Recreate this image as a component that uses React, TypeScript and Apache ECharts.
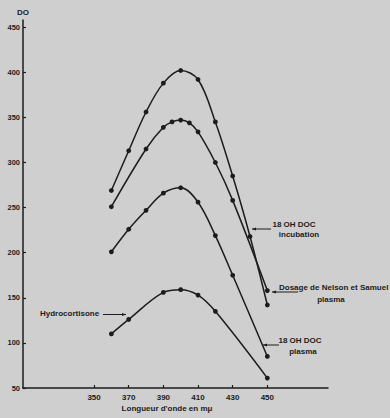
import React, { useEffect, useRef } from 'react';
import * as echarts from 'echarts';

// Wavelength axis (mμ)
const xTickValues = [350, 370, 390, 410, 430, 450];
const yTickValues = [50, 100, 150, 200, 250, 300, 350, 400, 450];

// 18 OH DOC incubation
const incubationX = [360, 370, 380, 390, 400, 410, 420, 430, 440, 450];
const incubationY = [269, 313, 356, 388, 402, 392, 345, 285, 218, 142];

// Dosage de Nelson et Samuel plasma
const nelsonX = [360, 380, 390, 395, 400, 405, 410, 420, 430, 450];
const nelsonY = [251, 315, 339, 345, 347, 344, 334, 300, 258, 158];

// 18 OH DOC plasma
const plasmaX = [360, 370, 380, 390, 400, 410, 420, 430, 450];
const plasmaY = [201, 226, 247, 266, 272, 256, 219, 175, 85];

// Hydrocortisone
const hydroX = [360, 370, 390, 400, 410, 420, 450];
const hydroY = [110, 126, 156, 159, 153, 135, 61];

const zip = (xs: number[], ys: number[]) => xs.map((x, i) => [x, ys[i]]);

const INK = '#1c1c1c';
const FONT = '"Liberation Sans", Arial, sans-serif';

function arrow(x1: number, y: number, x2: number) {
  const dir = x2 < x1 ? 1 : -1;
  return [
    { type: 'line', shape: { x1, y1: y, x2, y2: y }, style: { stroke: INK, lineWidth: 1 } },
    {
      type: 'polygon',
      shape: { points: [[x2, y], [x2 + dir * 4, y - 1.6], [x2 + dir * 4, y + 1.6]] },
      style: { fill: INK },
    },
  ];
}

function label(text: string, x: number, y: number, align: string = 'left', size = 8) {
  return {
    type: 'text',
    x,
    y,
    style: {
      text,
      fill: INK,
      font: `bold ${size}px ${FONT}`,
      align,
      verticalAlign: 'middle',
    },
  };
}

export default function App() {
  const ref = useRef<HTMLDivElement>(null);
  useEffect(() => {
    document.body.style.margin = '0';
    const chart = echarts.init(ref.current!, null, { renderer: 'svg' });
    const lineSeries = (name: string, data: number[][]) => ({
      name,
      type: 'line',
      data,
      smooth: 0.35,
      symbol: 'circle',
      symbolSize: 4.8,
      itemStyle: { color: INK },
      lineStyle: { color: INK, width: 1.5 },
      clip: false,
    });
    chart.setOption({
      animation: false,
      backgroundColor: '#cfcfcf',
      grid: { left: 23, right: 62, top: 20, bottom: 30 },
      xAxis: {
        type: 'value',
        min: 309,
        max: 485,
        splitLine: { show: false },
        axisLine: { lineStyle: { color: INK, width: 1.5 } },
        axisTick: { show: true, inside: true, length: 3, customValues: xTickValues, lineStyle: { color: INK, width: 1.2 } },
        axisLabel: {
          customValues: xTickValues,
          color: INK,
          fontSize: 8,
          fontWeight: 'bold',
          fontFamily: FONT,
          margin: 5,
        },
      },
      yAxis: {
        type: 'value',
        min: 50,
        max: 458,
        splitLine: { show: false },
        axisLine: { lineStyle: { color: INK, width: 1.5 } },
        axisTick: { show: true, inside: true, length: 3, customValues: yTickValues, lineStyle: { color: INK, width: 1.2 } },
        axisLabel: {
          customValues: yTickValues,
          color: INK,
          fontSize: 7.5,
          fontWeight: 'bold',
          fontFamily: FONT,
          margin: 3,
        },
      },
      graphic: [
        label('DO', 23, 12, 'center', 8),
        label("Longueur d'onde en mμ", 167, 408, 'center', 8),
        label('Hydrocortisone', 40, 313),
        ...arrow(103, 314.5, 126),
        label('18 OH DOC', 294, 224, 'center'),
        label('incubation', 299, 234, 'center'),
        ...arrow(271, 229, 252),
        label('Dosage de Nelson et Samuel', 279, 287),
        label('plasma', 331, 299, 'center'),
        ...arrow(298, 292, 272),
        label('18 OH DOC', 300, 340, 'center'),
        label('plasma', 303, 351, 'center'),
        ...arrow(279, 345, 263),
      ],
      series: [
        lineSeries('18 OH DOC incubation', zip(incubationX, incubationY)),
        lineSeries('Dosage de Nelson et Samuel plasma', zip(nelsonX, nelsonY)),
        lineSeries('18 OH DOC plasma', zip(plasmaX, plasmaY)),
        lineSeries('Hydrocortisone', zip(hydroX, hydroY)),
      ],
    });
    return () => chart.dispose();
  }, []);
  return <div ref={ref} style={{ width: 390, height: 418 }} />;
}
